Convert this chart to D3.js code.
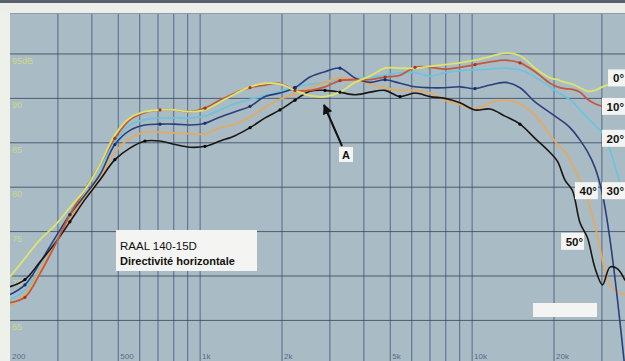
<!DOCTYPE html>
<html><head><meta charset="utf-8">
<script src="https://cdn.jsdelivr.net/npm/d3@7"></script>
<style>
html,body{margin:0;padding:0;background:#eef0ea;}
svg{display:block;}
</style></head>
<body>
<svg id="c" width="625" height="361"></svg>
<script>
const freqs = [200,227,258,293,332,377,428,486,552,627,712,809,918,1042,1184,1344,1526,1733,1966,2232,2535,2878,3268,3711,4213,4784,5432,6167,7003,7951,9027,10250,11637,13213,15000,17029,19335,20600,21953,23390,24925,26550,28299,30150,32130,34240,36480];
const s0  = [69.9,72.0,74.1,75.7,77.7,79.7,82.5,85.9,87.8,88.5,88.7,88.7,88.5,88.7,89.6,90.5,91.3,91.7,91.6,90.9,90.3,90.2,90.7,91.8,92.5,93.4,93.4,93.4,93.6,93.8,94.0,94.3,94.7,95.1,94.8,93.4,92.3,92.1,91.8,91.6,91.2,90.8,90.9,91.3,91.6,91.8,91.8];
const s10 = [67.0,67.6,70.3,73.5,76.9,79.7,82.5,85.5,87.6,88.4,88.7,88.7,88.5,88.9,89.8,90.6,91.2,91.5,91.7,90.9,90.9,91.3,92.0,92.1,92.1,92.4,92.6,93.5,93.5,93.3,93.5,93.8,94.1,94.3,94.0,93.0,91.7,91.3,91.1,91.0,90.7,89.9,89.4,89.1,88.9,88.7,88.5];
const s20 = [67.3,68.4,70.9,74.1,77.1,79.7,82.2,85.1,87.0,87.6,87.8,87.8,87.8,88.0,88.7,89.4,89.9,90.3,90.8,91.3,91.6,91.8,92.1,92.2,92.4,92.6,92.9,92.9,92.5,92.9,93.1,93.2,93.3,93.4,93.2,92.4,91.3,90.7,90.2,89.6,88.7,87.8,87.0,86.1,84.2,81.4,78.6];
const s30 = [67.9,69.0,71.5,74.3,76.9,79.1,81.4,84.8,86.4,87.0,87.1,87.1,87.0,87.2,87.9,88.5,89.1,90.2,90.6,91.2,92.4,93.0,93.4,92.3,91.8,92.1,91.7,91.3,91.2,91.2,91.3,91.1,91.5,91.8,91.2,89.6,88.4,87.8,87.2,86.4,85.3,84.0,82.2,79.2,74.1,67.3,59.5];
const s40 = [66.7,67.9,70.7,73.7,76.5,78.8,81.0,83.9,85.5,86.2,86.2,86.1,86.0,86.0,86.7,87.1,87.9,89.0,89.9,90.5,91.2,91.8,92.3,92.1,91.6,91.2,90.9,90.9,90.6,89.8,89.3,88.8,89.5,89.8,89.4,88.1,85.9,84.8,84.0,82.5,80.8,78.6,75.7,71.8,69.0,68.2,67.9];
const s50 = [68.8,69.6,71.6,73.7,76.1,78.6,80.8,83.1,84.4,85.2,85.2,84.8,84.5,84.6,85.2,85.8,86.7,87.8,88.7,89.8,90.8,90.9,90.7,90.4,90.7,90.9,90.2,90.6,90.2,90.0,89.5,88.7,88.8,88.0,87.1,85.5,83.9,82.9,80.8,79.6,76.0,74.3,70.9,69.0,71.0,70.8,69.5];
const seriesNames = ["20°","40°","30°","50°","10°","0°"];
const seriesValues = [s20,s40,s30,s50,s10,s0];
const seriesColors = ["#6fc2dc","#e2aa62","#2b3f7c","#1c1612","#c4583c","#dde46c"];
const dbTicks = [95,90,85,80,75,70,65];
const dbLabels = ["95dB","90","85","80","75","70","65"];
const gridFreqs = [300,400,500,600,700,800,900,1000,2000,3000,4000,5000,6000,7000,8000,9000,10000,20000,30000];
const freqTicks = [200,500,1000,2000,5000,10000,20000];
const freqLabels = ["200","500","1k","2k","5k","10k","20k"];
const angleLabels = [["0°",36480,91.8,"end"],["10°",36480,88.6,"end"],["20°",36480,85.0,"end"],["30°",36480,79.1,"end"],["40°",29000,79.1,"end"],["50°",25800,73.4,"end"]];

const svg = d3.select("#c");
const L=10, T=14, R=625, B=361;
const x = d3.scaleLog().domain([200,36480]).range([L,R]);
const y = d3.scaleLinear().domain([60.43,99.5]).range([B,T]);

// top band
svg.append("rect").attr("x",0).attr("y",0).attr("width",625).attr("height",3).attr("fill","#59606e");
svg.append("rect").attr("x",0).attr("y",3).attr("width",625).attr("height",10).attr("fill","#eceee8");
// plot bg
svg.append("rect").attr("x",L).attr("y",T-1).attr("width",R-L).attr("height",B-T+1).attr("fill","#a9bcc6");
svg.append("line").attr("x1",L).attr("x2",R).attr("y1",T-0.5).attr("y2",T-0.5).attr("stroke","#8a9bb0").attr("stroke-width",1);

const defs = svg.append("defs");
defs.append("clipPath").attr("id","clip").append("rect").attr("x",L).attr("y",T).attr("width",R-L).attr("height",B-T);
defs.append("marker").attr("id","arr").attr("viewBox","0 0 10 10").attr("refX",9).attr("refY",5)
  .attr("markerWidth",5).attr("markerHeight",5).attr("orient","auto")
  .append("path").attr("d","M0,0L10,5L0,10z").attr("fill","#111");

// grid
const g = svg.append("g");
g.selectAll("line.v").data(gridFreqs).join("line")
  .attr("x1",d=>x(d)).attr("x2",d=>x(d)).attr("y1",T).attr("y2",B)
  .attr("stroke","#3b4c72").attr("stroke-opacity",0.75).attr("stroke-width",1);
g.selectAll("line.h").data(dbTicks).join("line")
  .attr("x1",L).attr("x2",R).attr("y1",d=>y(d)).attr("y2",d=>y(d))
  .attr("stroke","#34445e").attr("stroke-opacity",0.8).attr("stroke-width",1);

// y labels
svg.append("g").selectAll("text").data(dbTicks).join("text")
  .attr("x",L+2).attr("y",d=>y(d)+10).text((d,i)=>dbLabels[i])
  .attr("font-family","Liberation Sans, Arial").attr("font-size",9).attr("fill","#d6dc7a").attr("fill-opacity",0.85);
// x labels
svg.append("g").selectAll("text").data(freqTicks).join("text")
  .attr("x",d=>x(d)+2).attr("y",359).text((d,i)=>freqLabels[i])
  .attr("font-family","Liberation Sans, Arial").attr("font-size",8).attr("fill","#3e4f78").attr("fill-opacity",0.8);

// curves
const line = d3.line().x((d,i)=>x(freqs[i])).y(d=>y(d)).curve(d3.curveCatmullRom.alpha(0.5));
const cg = svg.append("g").attr("clip-path","url(#clip)");
seriesValues.forEach((vals,k)=>{
  cg.append("path").attr("d",line(vals)).attr("fill","none")
    .attr("stroke",seriesColors[k]).attr("stroke-width",k===2||k===3?1.6:1.8).attr("stroke-linejoin","round");
});
// markers on red and blue
[[s10,"#a8321e"],[s30,"#1c2c66"],[s50,"#0a0604"]].forEach(([vals,c])=>{
  cg.selectAll(null).data(vals.filter((d,i)=>i%3===1 && i<36)).join("circle")
    .attr("cx",(d)=>x(freqs[vals.indexOf(d)])).attr("cy",d=>y(d)).attr("r",1.6).attr("fill",c);
});

// title box
const tb = svg.append("g");
tb.append("rect").attr("x",116).attr("y",230).attr("width",141).attr("height",41).attr("fill","#f4f5f2");
tb.append("text").attr("x",120).attr("y",250).text("RAAL 140-15D")
  .attr("font-family","Liberation Sans, Arial").attr("font-size",11.5).attr("fill","#111");
tb.append("text").attr("x",120).attr("y",265).text("Directivité horizontale")
  .attr("font-family","Liberation Sans, Arial").attr("font-size",11).attr("font-weight","bold").attr("fill","#111");

// empty white box
svg.append("rect").attr("x",533).attr("y",303).attr("width",64).attr("height",14).attr("fill","#f4f5f2");

// arrow A
svg.append("line").attr("x1",342).attr("y1",146).attr("x2",324).attr("y2",105)
  .attr("stroke","#111").attr("stroke-width",2).attr("marker-end","url(#arr)");
svg.append("rect").attr("x",339).attr("y",147).attr("width",14).attr("height",15).attr("fill","#f4f5f2");
svg.append("text").attr("x",346).attr("y",159).attr("text-anchor","middle").text("A")
  .attr("font-family","Liberation Sans, Arial").attr("font-size",11).attr("font-weight","bold").attr("fill","#111");

// angle labels
angleLabels.forEach(([t,f,db,anc])=>{
  const tx = x(f), ty = y(db);
  const w = t.length>2 ? 23 : 17;
  svg.append("rect").attr("x",tx-w).attr("y",ty-13).attr("width",w).attr("height",17).attr("fill","#f4f5f2");
  svg.append("text").attr("x",tx-1).attr("y",ty).attr("text-anchor","end").text(t)
    .attr("font-family","Liberation Sans, Arial").attr("font-size",11.5).attr("font-weight","bold").attr("fill","#111");
});
</script>
</body></html>
